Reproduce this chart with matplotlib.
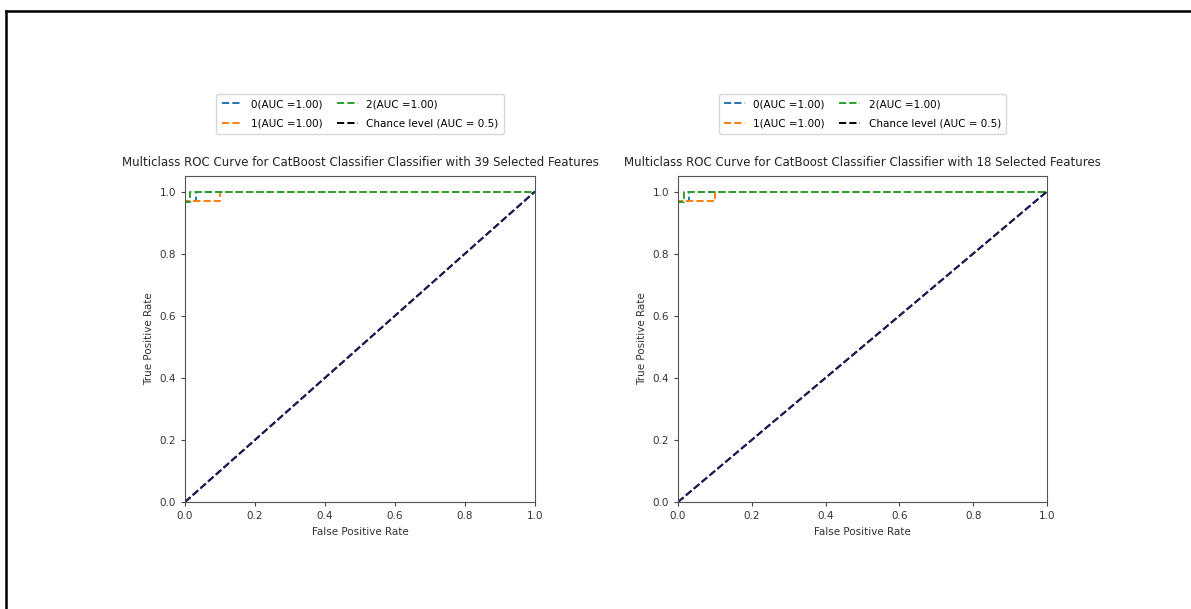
import numpy as np
import matplotlib.pyplot as plt
from matplotlib.lines import Line2D

W, H = 1191, 609
fig = plt.figure(figsize=(W / 100, H / 100), dpi=100)
fig.patch.set_facecolor("white")

# ROC points (same for both models)
classes = ["0", "1", "2"]
auc_vals = [1.00, 1.00, 1.00]
fpr_list = [
    [0.0, 0.0, 0.03, 0.03, 1.0],
    [0.0, 0.0, 0.10, 0.10, 1.0],
    [0.0, 0.0, 0.015, 0.015, 1.0],
]
tpr_list = [
    [0.0, 0.97, 0.97, 1.0, 1.0],
    [0.0, 0.97, 0.97, 1.0, 1.0],
    [0.0, 0.965, 0.965, 1.0, 1.0],
]
n_features = [39, 18]
colors = ["#1f77b4", "#ff7f0e", "#2ca02c"]

# axes boxes in pixels: left, top, right, bottom
boxes = [(185, 176, 535, 502), (678, 176, 1047, 502)]

for (l, t, r, b), nf in zip(boxes, n_features):
    ax = fig.add_axes([l / W, (H - b) / H, (r - l) / W, (b - t) / H])
    for i in range(3):
        ax.plot(fpr_list[i], tpr_list[i], linestyle="--", color=colors[i], lw=1.4,
                label=f"{classes[i]}(AUC ={auc_vals[i]:.2f})")
    ax.plot([0, 1], [0, 1], "k--", lw=1.4, label="Chance level (AUC = 0.5)")
    ax.plot([0, 1], [0, 1], color="#1c1c5c", linestyle="--", lw=1.4)
    ax.set_xlim(0, 1.0)
    ax.set_ylim(0, 1.05)
    ax.set_xticks(np.arange(0, 1.01, 0.2))
    ax.set_yticks(np.arange(0, 1.01, 0.2))
    ax.tick_params(labelsize=7.5, length=3, color="#444444", labelcolor="#333333")
    for s in ax.spines.values():
        s.set_color("#555555")
    ax.set_xlabel("False Positive Rate", fontsize=7.5, color="#333333")
    ax.set_ylabel("True Positive Rate", fontsize=7.5, color="#333333")
    ax.set_title(f"Multiclass ROC Curve for CatBoost Classifier Classifier with {nf} Selected Features",
                 fontsize=8.5, color="#222222", pad=7)
    ax.legend(ncol=2, loc="lower center", bbox_to_anchor=(0.5, 1.13), borderaxespad=0,
              fontsize=7.5, handlelength=2, columnspacing=1.4, labelspacing=0.9,
              borderpad=0.5, frameon=True)

# screenshot border at top and left
fig.add_artist(Line2D([6 / W, 1], [1 - 11 / H, 1 - 11 / H], transform=fig.transFigure,
                      color="black", lw=1.8))
fig.add_artist(Line2D([6 / W, 6 / W], [0, 1 - 11 / H], transform=fig.transFigure,
                      color="black", lw=1.8))

fig.savefig("out.png", dpi=100)
